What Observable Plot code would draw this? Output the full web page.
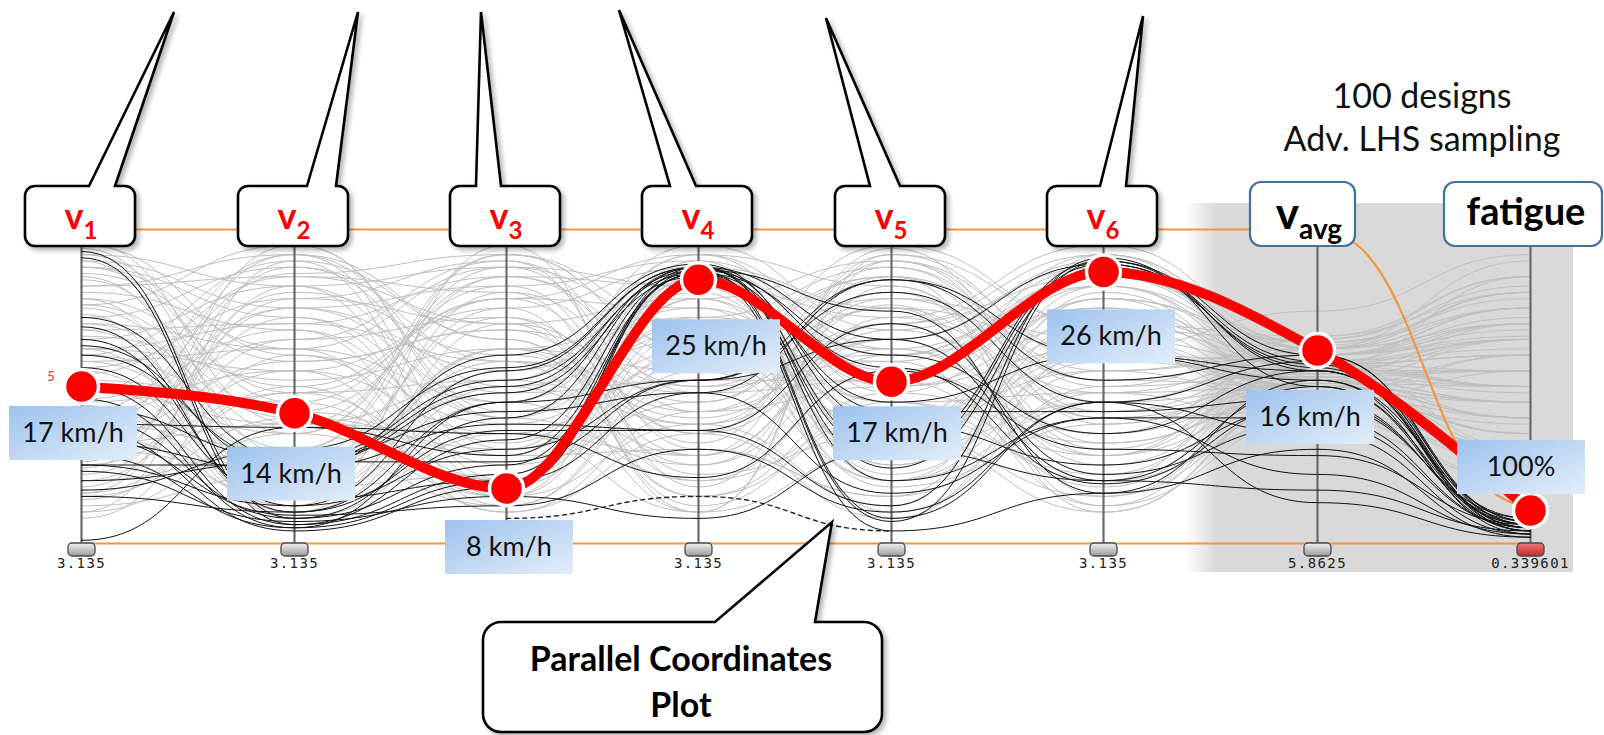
<!DOCTYPE html>
<html><head><meta charset="utf-8">
<script src="https://cdn.jsdelivr.net/npm/d3@7"></script>
<script src="https://cdn.jsdelivr.net/npm/@observablehq/plot@0.6"></script>
<style>html,body{margin:0;padding:0;background:#fff;overflow:hidden}</style>
</head><body><div id="chart"></div>
<script>
// ---------------- DATA ----------------
const axisNames = ["v1","v2","v3","v4","v5","v6","vavg","fatigue"];
const headerMain = ["v","v","v","v","v","v","v","fatigue"];
const headerSub  = ["1","2","3","4","5","6","avg",""];
const axisTicks = ["3.135","3.135","3.135","3.135","3.135","3.135","5.8625","0.339601"];

// normalised position on each axis (0 = bottom, 100 = top)
const greyDesigns = [
  [88,72,40,25,60,85,62,70],[75,30,85,55,20,45,50,40],[60,90,20,70,35,15,45,55],[45,55,75,10,90,60,58,30],
  [30,80,60,40,70,25,52,65],[92,45,15,85,50,70,66,80],[20,65,90,30,15,80,48,35],[55,10,50,65,85,40,50,45],
  [82,85,70,15,40,55,60,75],[15,40,30,90,60,88,55,50],[68,20,80,50,75,10,47,25],[40,75,45,80,25,65,57,60],
  [95,60,25,45,80,30,56,85],[10,90,65,20,55,75,52,40],[50,35,92,70,10,50,54,70],[78,50,10,35,65,90,55,55],
  [35,15,55,75,45,20,40,20],[62,70,85,60,30,45,60,65],[25,55,35,10,92,70,48,35],[85,25,75,88,55,35,62,90],
  [48,92,50,28,70,85,64,75],[70,40,20,62,35,60,48,45],[18,78,70,45,85,15,52,30],[90,15,45,20,40,78,48,60],
  [58,62,88,82,20,55,62,80],[38,30,12,55,75,40,42,25],[72,88,58,38,12,92,60,70],[28,48,78,92,62,28,56,50],
  [80,68,32,72,88,50,65,85],[12,22,62,42,50,62,42,30],[65,82,18,58,28,82,55,55],[44,12,95,18,82,32,47,40],
  [86,58,68,50,58,12,55,65],[22,72,28,78,38,72,52,45],[52,45,82,32,92,58,60,75],[76,95,42,68,18,38,56,50],
  [32,38,52,95,68,88,62,80],[94,28,72,12,45,48,50,35],[8,60,38,62,78,52,50,60],[56,78,90,48,52,18,57,55],
  [42,18,22,85,32,65,45,30],[66,52,62,25,72,95,62,70],[26,88,48,52,88,42,57,65],[84,35,88,68,42,22,57,50],
  [46,68,15,38,62,82,52,45],[14,50,78,75,22,60,50,40],[73,8,35,58,95,70,57,60],[36,92,65,15,48,32,48,25],
  [90,75,55,88,75,62,74,92],[60,42,28,30,15,48,37,20],[20,30,92,62,58,85,58,70],[70,62,45,92,82,28,63,80],
  [54,85,80,22,35,10,48,35],[30,22,58,48,70,92,53,55],[88,48,20,78,25,58,53,50],[40,65,72,35,90,45,58,65],
  [78,15,62,55,60,75,57,60],[16,82,40,70,45,28,47,30],[62,55,10,42,78,65,50,45],[48,38,85,82,38,78,62,75],
  [82,92,30,60,20,72,58,62],[34,58,68,28,94,38,53,48],[58,28,48,92,48,82,60,72],[92,82,88,42,65,20,66,85],
  [10,35,15,68,85,55,45,38],[68,70,58,10,30,88,54,55],[24,95,40,82,72,48,60,68],[76,42,78,35,8,62,50,40],
  [50,20,62,72,62,35,50,45],[88,62,12,52,52,92,60,75],[42,86,92,62,38,68,65,82],[16,48,52,38,76,12,40,28],
  [62,10,70,78,90,52,60,66],[96,38,35,28,68,42,51,50],[30,75,82,90,28,78,64,78]
];
const blackDesigns = [
  [93,8,40,88,30,90,60,6],[91,6,22,86,45,60,55,5],[69,10,45,52,80,45,58,7],[65,12,55,88,65,20,50,4],
  [63,24,38,36,12,91,50,6],[60,26,50,87,74,16,52,3],[46,5,20,88,20,40,40,5],[43,27,42,48,84,52,60,7],
  [40,8,25,86,28,89,58,4],[38,37,35,21,55,30,28,6],[36,4,18,87,8,45,35,3],[32,23,60,89,38,25,44,8],
  [25,12,30,52,65,89,56,5],[25,25,48,85,4,16,30,2],[23,7,15,8,30,20,17,4],[17,30,56,88,42,42,46,6],
  [15,10,36,36,70,22,38,5],[1,37,28,86,7,90,55,4],[50,6,33,87,56,19,45,7],[56,14,20,48,16,40,22,3],
  [28,5,45,88,24,88,57,6],[72,27,52,86,60,35,55,5],[34,9,12,30,10,45,13,2],[20,26,26,52,84,60,52,8]
];
const dashedDesign = [null,null,8,15,4,null,null,null];
const selectedDesign = [50,41.5,17.5,84,51.5,86.5,61.5,10.5];
const selectedLabels = ["17 km/h","14 km/h","8 km/h","25 km/h","17 km/h","26 km/h","16 km/h","100%"];
const filterUpper = [100,100,100,100,100,100,100,12];
const filterLower = [0,0,0,0,0,0,0,0];
const titleLines = ["100 designs","Adv. LHS sampling"];
const calloutLines = ["Parallel Coordinates","Plot"];

// ---------------- LAYOUT ----------------
const axisX = [81,294,506,698,891,1103,1317,1530];
const headerPointers = [
  {tip:[93,12], base:[8,34]}, {tip:[64,12], base:[13,42]}, {tip:[-25,12], base:[-30,-5]},
  {tip:[-79,10], base:[-28,-2]}, {tip:[-65,18], base:[-21,9]}, {tip:[40,16], base:[-3,23]}
];
const labelOffsets = [[-8,20],[-3,34],[3,32],[18,40],[6,25],[8,38],[-7,40],[-9,-70]];

const NS = "http://www.w3.org/2000/svg";
function el(tag, attrs = {}, parent) {
  const e = document.createElementNS(NS, tag);
  for (const [k, v] of Object.entries(attrs)) if (v != null) e.setAttribute(k, v);
  if (parent) parent.appendChild(e);
  return e;
}
function bubble(x0, y0, x1, y1, r, b1, b2, tx, ty) {
  let p = `M${x0+r},${y0} `;
  if (b1 != null) p += `L${b1},${y0} L${tx},${ty} L${b2},${y0} `;
  p += `L${x1-r},${y0} A${r},${r} 0 0 1 ${x1},${y0+r} L${x1},${y1-r} A${r},${r} 0 0 1 ${x1-r},${y1} L${x0+r},${y1} A${r},${r} 0 0 1 ${x0},${y1-r} L${x0},${y0+r} A${r},${r} 0 0 1 ${x0+r},${y0} Z`;
  return p;
}

const tidy = (rows, prefix) => rows.flatMap((r, i) => r.map((v, j) => ({id: prefix + i, axis: j, value: v})));
const axisIdx = axisNames.map((_, i) => i);
const selected = selectedDesign.map((v, i) => ({axis: i, value: v, label: selectedLabels[i]}));
const filters = [
  ...filterUpper.map((v, i) => ({id: "u", axis: i, value: v})),
  ...filterLower.map((v, i) => ({id: "l", axis: i, value: v}))
];
const FONT = "Lato, 'Open Sans', sans-serif";

// ---------------- CUSTOM LAYERS ----------------
function defsLayer(index, scales) {
  const g = el("g");
  const defs = el("defs", {}, g);
  const f = el("filter", {id:"shadow", x:"-20%", y:"-20%", width:"150%", height:"160%"}, defs);
  el("feDropShadow", {dx:3, dy:3, stdDeviation:2.5, "flood-color":"#000", "flood-opacity":0.3}, f);
  const lg = el("linearGradient", {id:"labelGrad", x1:0, y1:0, x2:1, y2:1}, defs);
  el("stop", {offset:"0%", "stop-color":"#9cc2ee"}, lg);
  el("stop", {offset:"100%", "stop-color":"#e4eef9"}, lg);
  const hg = el("linearGradient", {id:"handleGrad", x1:0, y1:0, x2:0, y2:1}, defs);
  el("stop", {offset:"0%", "stop-color":"#f4f4f4"}, hg);
  el("stop", {offset:"100%", "stop-color":"#9a9a9a"}, hg);
  const rg = el("linearGradient", {id:"redHandleGrad", x1:0, y1:0, x2:0, y2:1}, defs);
  el("stop", {offset:"0%", "stop-color":"#f27a7a"}, rg);
  el("stop", {offset:"100%", "stop-color":"#c42828"}, rg);
  const x0 = scales.x(5) + 82, x1 = scales.x(7) + 43;
  const sg = el("linearGradient", {id:"regionGrad", gradientUnits:"userSpaceOnUse", x1:x0, y1:0, x2:x0+32, y2:0}, defs);
  el("stop", {offset:"0%", "stop-color":"#d9d9d9", "stop-opacity":0}, sg);
  el("stop", {offset:"100%", "stop-color":"#d9d9d9", "stop-opacity":1}, sg);
  el("rect", {x:x0, y:203, width:x1-x0, height:369, fill:"url(#regionGrad)"}, g);
  return g;
}

function handlesLayer(index, scales) {
  const g = el("g");
  axisIdx.forEach(i => {
    const cx = scales.x(i) + 0.5, y = scales.y(0);
    el("rect", {x:cx-13.5, y:y, width:27, height:13, rx:4, fill: i === 7 ? "url(#redHandleGrad)" : "url(#handleGrad)", stroke:"#4a4a4a", "stroke-width":1.3}, g);
    const t = el("text", {x:cx, y:y+25, "text-anchor":"middle", "font-family":"'DejaVu Sans Mono', monospace", "font-size":14, "letter-spacing":1.4, fill:"#222"}, g);
    t.textContent = axisTicks[i];
  });
  return g;
}

function headersLayer(index, scales) {
  const g = el("g");
  axisIdx.forEach(i => {
    const ax = scales.x(i);
    let x0, x1, y0, y1, stroke, d, cx, color, size;
    if (i < 6) {
      x0 = ax - 56; x1 = ax + 54; y0 = 186; y1 = 246;
      const p = headerPointers[i];
      d = bubble(x0, y0, x1, y1, 10, ax + p.base[0], ax + p.base[1], ax + p.tip[0], p.tip[1]);
      stroke = "#000"; cx = ax; color = "#ff0000"; size = 36;
    } else if (i === 6) {
      x0 = ax - 67; x1 = ax + 38; y0 = 182; y1 = 246;
      d = bubble(x0, y0, x1, y1, 11);
      stroke = "#41719c"; cx = ax - 8; color = "#000"; size = 44;
    } else {
      x0 = ax - 86; x1 = ax + 72; y0 = 182; y1 = 246;
      d = bubble(x0, y0, x1, y1, 11);
      stroke = "#41719c"; cx = ax - 4; color = "#000"; size = 38;
    }
    el("path", {d, fill:"#fff", stroke, "stroke-width": i < 6 ? 2.6 : 2.2, "stroke-linejoin":"miter", "stroke-miterlimit":12, filter: i < 6 ? "url(#shadow)" : null}, g);
    const t = el("text", {x:cx, y: i === 7 ? 225 : 229, "text-anchor":"middle", "font-family":FONT, "font-weight":"bold", "font-size":size, fill:color, "font-variant-ligatures":"none"}, g);
    t.appendChild(document.createTextNode(headerMain[i]));
    if (headerSub[i]) {
      const s = el("tspan", {dy: 10, "font-size": i === 6 ? 28 : 24}, t);
      s.textContent = headerSub[i];
    }
  });
  return g;
}

function valueLabelsLayer(index, scales) {
  const g = el("g");
  selected.forEach((d, i) => {
    const ax = scales.x(d.axis), dy = scales.y(d.value);
    const [ox, oy] = labelOffsets[i];
    const cx = ax + ox, top = dy + oy;
    el("rect", {x:cx-64, y:top, width:128, height:54, fill:"url(#labelGrad)"}, g);
    const t = el("text", {x:cx, y:top+36, "text-anchor":"middle", "font-family":FONT, "font-size":27, fill:"#111"}, g);
    t.textContent = d.label;
  });
  const t5 = el("text", {x: scales.x(0) - 30, y: scales.y(selectedDesign[0]) - 5, "font-family":FONT, "font-size":13, fill:"#ff3030"}, g);
  t5.textContent = "5";
  return g;
}

function annotationLayer(index, scales) {
  const g = el("g");
  titleLines.forEach((s, k) => {
    const t = el("text", {x:1422, y: 108 + k*43, "text-anchor":"middle", "font-family":FONT, "font-size":34, fill:"#111"}, g);
    t.textContent = s;
  });
  el("path", {d: bubble(483, 622, 882, 732, 18, 715, 815, 832, 522), fill:"#fff", stroke:"#000", "stroke-width":2.6, "stroke-miterlimit":12, filter:"url(#shadow)"}, g);
  calloutLines.forEach((s, k) => {
    const t = el("text", {x:681, y: 671 + k*46, "text-anchor":"middle", "font-family":FONT, "font-weight":"bold", "font-size":34, fill:"#000"}, g);
    t.textContent = s;
  });
  return g;
}

// ---------------- PLOT ----------------
const chart = Plot.plot({
  width: 1604,
  height: 735,
  margin: 0,
  style: {background: "#fff", overflow: "visible"},
  x: {type: "linear", domain: axisIdx, range: axisX, axis: null},
  y: {domain: [0, 100], range: [543, 229], axis: null},
  marks: [
    defsLayer,
    Plot.line(tidy(greyDesigns, "g"), {x: "axis", y: "value", z: "id", curve: "bump-x", stroke: "#bfbfbf", strokeWidth: 1}),
    Plot.ruleX(axisIdx, {x: d => d, y1: 0, y2: 94.6, stroke: "#6a6a6a", strokeWidth: 2.2}),
    Plot.line(tidy(blackDesigns, "b"), {x: "axis", y: "value", z: "id", curve: "bump-x", stroke: "#111", strokeWidth: 1}),
    Plot.line(dashedDesign.map((v, i) => ({axis: i, value: v})), {x: "axis", y: "value", curve: "bump-x", stroke: "#222", strokeWidth: 1.4, strokeDasharray: "4,4"}),
    Plot.line(filters, {x: "axis", y: "value", z: "id", curve: "bump-x", stroke: "#f5963c", strokeWidth: 2.2}),
    handlesLayer,
    Plot.line(selected, {x: "axis", y: "value", curve: "monotone-x", stroke: "#ff0000", strokeWidth: 10, strokeLinecap: "round"}),
    Plot.dot(selected, {x: "axis", y: "value", r: 17, fill: "#ff0000", stroke: "#fff", strokeWidth: 3.5}),
    headersLayer,
    valueLabelsLayer,
    annotationLayer
  ]
});
document.getElementById("chart").appendChild(chart);
</script>
</body></html>
